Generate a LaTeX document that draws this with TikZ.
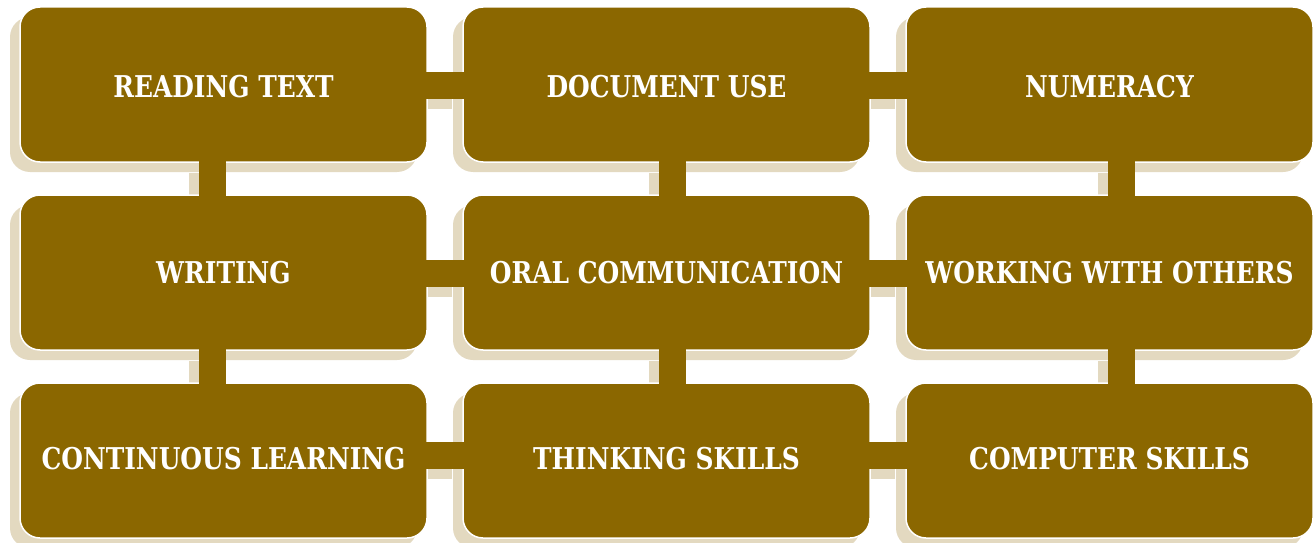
\documentclass[tikz,border=0pt]{standalone}
\usepackage{fontspec}
\setmainfont{DejaVu Serif}[FakeStretch=0.83]
\usetikzlibrary{shadows,backgrounds}
\definecolor{skillbrown}{RGB}{139,103,0}
\definecolor{skillshade}{RGB}{227,217,192}
\tikzset{
  skill/.style={rectangle, rounded corners=20pt, fill=skillbrown, draw=white, line width=1.5pt,
    minimum width=407pt, minimum height=155pt, inner sep=0pt, text=white,
    font=\fontsize{30}{36}\selectfont\bfseries,
    drop shadow={shadow xshift=-10pt, shadow yshift=-10pt, fill=skillshade, opacity=1}},
  top row/.style={text height=27pt, text depth=0pt},
  low row/.style={text height=22pt, text depth=5pt},
  link/.style={draw=skillbrown, line width=27pt, shorten <=-3pt, shorten >=-3pt},
  linkshade/.style={draw=skillshade, line width=27pt}
}
\begin{document}
\begin{tikzpicture}[x=1pt,y=1pt]
  \useasboundingbox (0,0) rectangle (1314,542);
  % boxes
  \node[skill,top row] (rt) at (223.5,457.5) {READING TEXT};
  \node[skill,top row] (du) at (666.5,457.5) {DOCUMENT USE};
  \node[skill,top row] (nu) at (1109.5,457.5) {NUMERACY};
  \node[skill] (wr) at (223.5,269.5) {WRITING};
  \node[skill] (oc) at (666.5,269.5) {ORAL COMMUNICATION};
  \node[skill] (wo) at (1109.5,269.5) {WORKING WITH OTHERS};
  \node[skill,low row] (cl) at (223.5,81.5) {CONTINUOUS LEARNING};
  \node[skill,low row] (ts) at (666.5,81.5) {THINKING SKILLS};
  \node[skill,low row] (cs) at (1109.5,81.5) {COMPUTER SKILLS};
  % shadows of the links
  \begin{pgfonlayer}{background}
    \begin{scope}[transform canvas={shift={(-10pt,-10pt)}}]
      \draw[linkshade] ([yshift=-1pt]rt.east) -- ([yshift=-1pt]du.west);
      \draw[linkshade] ([yshift=-1pt]du.east) -- ([yshift=-1pt]nu.west);
      \draw[linkshade] ([yshift=-0.5pt]wr.east) -- ([yshift=-0.5pt]oc.west);
      \draw[linkshade] ([yshift=-0.5pt]oc.east) -- ([yshift=-0.5pt]wo.west);
      \draw[linkshade] ([yshift=5pt]cl.east) -- ([yshift=5pt]ts.west);
      \draw[linkshade] ([yshift=5pt]ts.east) -- ([yshift=5pt]cs.west);
      \draw[linkshade] ([xshift=-11pt]rt.south) -- ([xshift=-11pt]wr.north);
      \draw[linkshade] ([xshift=-11pt]wr.south) -- ([xshift=-11pt]cl.north);
      \draw[linkshade] ([xshift=5.5pt]du.south) -- ([xshift=5.5pt]oc.north);
      \draw[linkshade] ([xshift=5.5pt]oc.south) -- ([xshift=5.5pt]ts.north);
      \draw[linkshade] ([xshift=12pt]nu.south) -- ([xshift=12pt]wo.north);
      \draw[linkshade] ([xshift=12pt]wo.south) -- ([xshift=12pt]cs.north);
    \end{scope}
  \end{pgfonlayer}
  % links
  \draw[link] ([yshift=-1pt]rt.east) -- ([yshift=-1pt]du.west);
  \draw[link] ([yshift=-1pt]du.east) -- ([yshift=-1pt]nu.west);
  \draw[link] ([yshift=-0.5pt]wr.east) -- ([yshift=-0.5pt]oc.west);
  \draw[link] ([yshift=-0.5pt]oc.east) -- ([yshift=-0.5pt]wo.west);
  \draw[link] ([yshift=5pt]cl.east) -- ([yshift=5pt]ts.west);
  \draw[link] ([yshift=5pt]ts.east) -- ([yshift=5pt]cs.west);
  \draw[link] ([xshift=-11pt]rt.south) -- ([xshift=-11pt]wr.north);
  \draw[link] ([xshift=-11pt]wr.south) -- ([xshift=-11pt]cl.north);
  \draw[link] ([xshift=5.5pt]du.south) -- ([xshift=5.5pt]oc.north);
  \draw[link] ([xshift=5.5pt]oc.south) -- ([xshift=5.5pt]ts.north);
  \draw[link] ([xshift=12pt]nu.south) -- ([xshift=12pt]wo.north);
  \draw[link] ([xshift=12pt]wo.south) -- ([xshift=12pt]cs.north);
\end{tikzpicture}
\end{document}
